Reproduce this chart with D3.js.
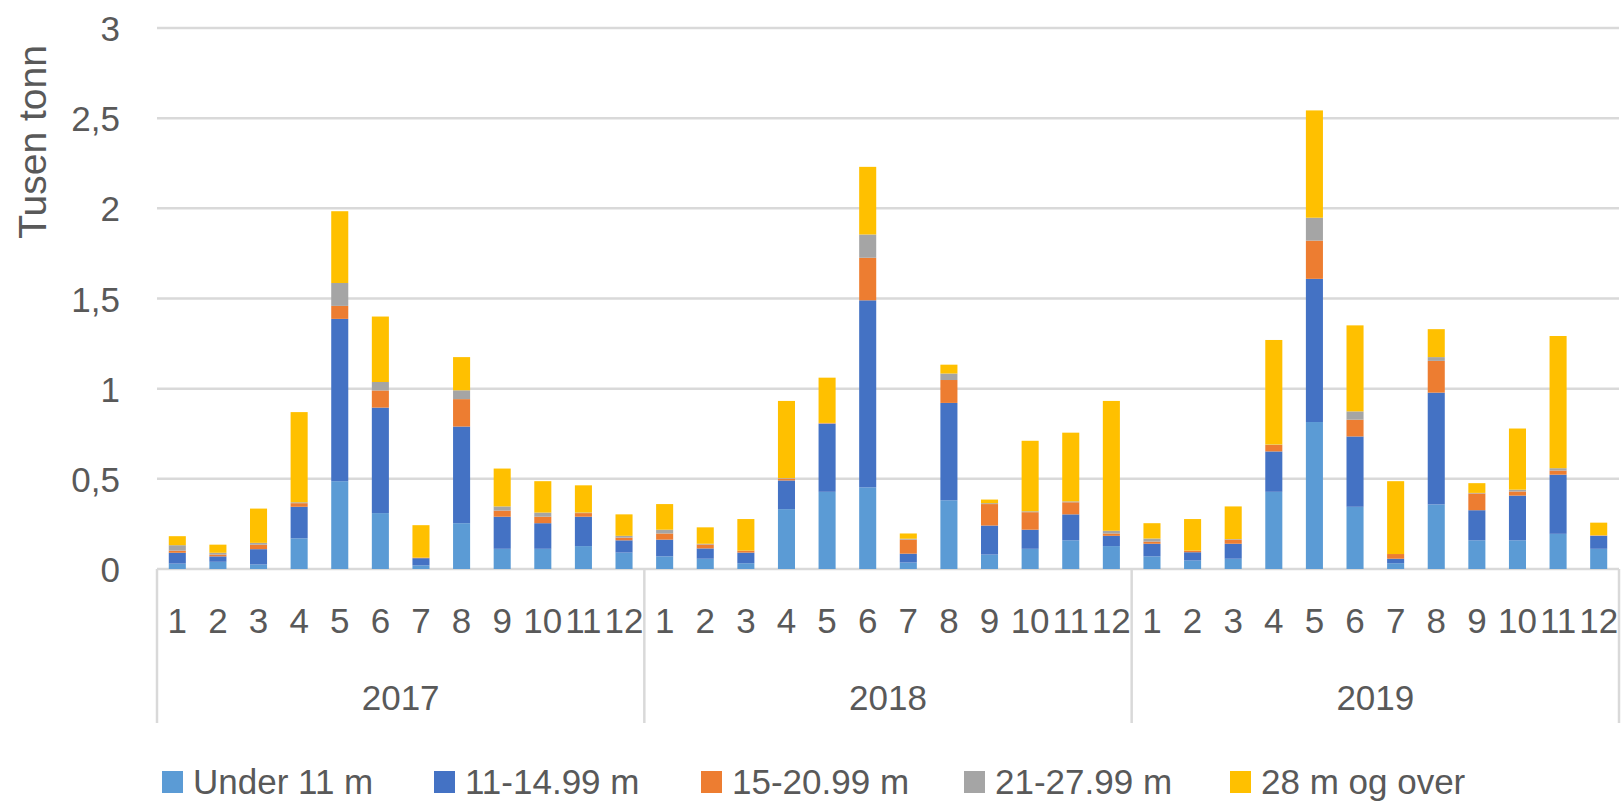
<!DOCTYPE html>
<html>
<head>
<meta charset="utf-8">
<script src="https://cdn.jsdelivr.net/npm/d3@7"></script>
<style>
  html, body { margin: 0; padding: 0; background: #fff; }
  svg { display: block; }
  text { font-family: "Liberation Sans", Arial, sans-serif; fill: #595959; }
</style>
</head>
<body>
<svg id="chart" width="1622" height="802"></svg>
<script>
// ---------- data ----------
const years = ["2017", "2018", "2019"];
const months = ["1","2","3","4","5","6","7","8","9","10","11","12"];
const seriesNames = ["Under 11 m", "11-14.99 m", "15-20.99 m", "21-27.99 m", "28 m og over"];
const seriesColors = ["#5B9BD5", "#4472C4", "#ED7D31", "#A5A5A5", "#FFC000"];
const yTicks = [0, 0.5, 1, 1.5, 2, 2.5, 3];
const yTickLabels = ["0", "0,5", "1", "1,5", "2", "2,5", "3"];
const yTitle = "Tusen tonn";

// values in thousand tonnes, 36 months (2017-01 .. 2019-12)
const under11 = [
  0.03, 0.04, 0.025, 0.17, 0.487, 0.31, 0.02, 0.254, 0.112, 0.112, 0.127, 0.091,
  0.07, 0.057, 0.032, 0.332, 0.428, 0.453, 0.036, 0.381, 0.08, 0.112, 0.159, 0.127,
  0.07, 0.047, 0.057, 0.428, 0.815, 0.345, 0.032, 0.358, 0.159, 0.159, 0.195, 0.112
];
const m11to15 = [
  0.06, 0.03, 0.085, 0.175, 0.9, 0.585, 0.04, 0.536, 0.178, 0.142, 0.163, 0.068,
  0.093, 0.057, 0.059, 0.159, 0.377, 1.037, 0.049, 0.54, 0.161, 0.106, 0.144, 0.057,
  0.07, 0.046, 0.083, 0.224, 0.794, 0.39, 0.025, 0.62, 0.167, 0.248, 0.328, 0.072
];
const m15to21 = [
  0.012, 0.01, 0.025, 0.02, 0.072, 0.095, 0.003, 0.152, 0.034, 0.036, 0.02, 0.015,
  0.034, 0.022, 0.011, 0.01, 0.003, 0.236, 0.078, 0.127, 0.119, 0.097, 0.067, 0.013,
  0.012, 0.009, 0.023, 0.036, 0.212, 0.093, 0.026, 0.176, 0.093, 0.023, 0.023, 0.002
];
const m21to28 = [
  0.03, 0.01, 0.01, 0.005, 0.127, 0.047, 0.0, 0.049, 0.023, 0.023, 0.003, 0.01,
  0.021, 0.004, 0.0, 0.003, 0.002, 0.129, 0.005, 0.036, 0.005, 0.005, 0.005, 0.015,
  0.017, 0.0, 0.003, 0.002, 0.127, 0.046, 0.0, 0.021, 0.003, 0.01, 0.013, 0.001
];
const m28plus = [
  0.05, 0.045, 0.19, 0.5, 0.398, 0.363, 0.18, 0.184, 0.21, 0.174, 0.151, 0.119,
  0.142, 0.091, 0.175, 0.428, 0.251, 0.375, 0.029, 0.049, 0.02, 0.391, 0.381, 0.72,
  0.085, 0.175, 0.181, 0.58, 0.595, 0.477, 0.404, 0.155, 0.054, 0.339, 0.733, 0.07
];

// ---------- build table ----------
const seriesValues = [under11, m11to15, m15to21, m21to28, m28plus];
const rows = [];
years.forEach((yr, yi) => {
  months.forEach((m, mi) => {
    const idx = yi * months.length + mi;
    const row = { id: yr + "-" + m, year: yr, month: m };
    seriesNames.forEach((s, si) => { row[s] = seriesValues[si][idx]; });
    rows.push(row);
  });
});

// ---------- layout ----------
const svg = d3.select("#chart");
const plot = { left: 157, right: 1619, top: 28, bottom: 569 };
const fontSize = 35;

const x = d3.scaleBand()
  .domain(rows.map(d => d.id))
  .range([plot.left, plot.right])
  .paddingInner(0.58)
  .paddingOuter(0.29);

const y = d3.scaleLinear().domain([0, 3]).range([plot.bottom, plot.top]);

const color = d3.scaleOrdinal().domain(seriesNames).range(seriesColors);

// gridlines
svg.append("g")
  .selectAll("line")
  .data(yTicks)
  .join("line")
  .attr("x1", plot.left)
  .attr("x2", plot.right)
  .attr("y1", d => y(d))
  .attr("y2", d => y(d))
  .attr("stroke", "#d9d9d9")
  .attr("stroke-width", 2.5);

// y axis labels
const yAxis = d3.axisLeft(y)
  .tickValues(yTicks)
  .tickFormat((d, i) => yTickLabels[i])
  .tickSize(0)
  .tickPadding(0);
const gy = svg.append("g")
  .attr("transform", `translate(${120},0)`)
  .call(yAxis);
gy.select(".domain").remove();
gy.selectAll("text")
  .attr("font-size", fontSize)
  .attr("font-family", '"Liberation Sans", Arial, sans-serif')
  .attr("fill", "#595959")
  .attr("dy", "0.36em");

// y title
svg.append("text")
  .attr("transform", `translate(46, ${142}) rotate(-90)`)
  .attr("text-anchor", "middle")
  .attr("font-size", 39)
  .text(yTitle);

// stacked bars
const stack = d3.stack().keys(seriesNames);
const stacked = stack(rows);

svg.append("g")
  .selectAll("g")
  .data(stacked)
  .join("g")
  .attr("fill", d => color(d.key))
  .selectAll("rect")
  .data(d => d)
  .join("rect")
  .attr("x", d => x(d.data.id))
  .attr("width", x.bandwidth())
  .attr("y", d => y(d[1]))
  .attr("height", d => Math.max(0, y(d[0]) - y(d[1])));

// category axis: month labels
svg.append("g")
  .selectAll("text")
  .data(rows)
  .join("text")
  .attr("x", d => x(d.id) + x.bandwidth() / 2)
  .attr("y", 633)
  .attr("text-anchor", "middle")
  .attr("font-size", fontSize)
  .text(d => d.month);

// year group separators
const yearWidth = (plot.right - plot.left) / years.length;
const sepX = d3.range(years.length + 1).map(i => plot.left + i * yearWidth);
svg.append("g")
  .selectAll("line")
  .data(sepX)
  .join("line")
  .attr("x1", d => d)
  .attr("x2", d => d)
  .attr("y1", plot.bottom)
  .attr("y2", 723)
  .attr("stroke", "#d9d9d9")
  .attr("stroke-width", 2.5);

// year labels
svg.append("g")
  .selectAll("text")
  .data(years)
  .join("text")
  .attr("x", (d) => {
    const first = x(d + "-" + months[0]);
    const last = x(d + "-" + months[months.length - 1]) + x.bandwidth();
    return (first + last) / 2;
  })
  .attr("y", 710)
  .attr("text-anchor", "middle")
  .attr("font-size", fontSize)
  .text(d => d);

// legend
const legendX = [162, 434, 701, 964, 1230];
const legend = svg.append("g")
  .selectAll("g")
  .data(seriesNames)
  .join("g")
  .attr("transform", (d, i) => `translate(${legendX[i]}, 771)`);
legend.append("rect")
  .attr("width", 21)
  .attr("height", 22)
  .attr("fill", d => color(d));
legend.append("text")
  .attr("x", 31)
  .attr("y", 23)
  .attr("font-size", fontSize)
  .text(d => d);
</script>
</body>
</html>
